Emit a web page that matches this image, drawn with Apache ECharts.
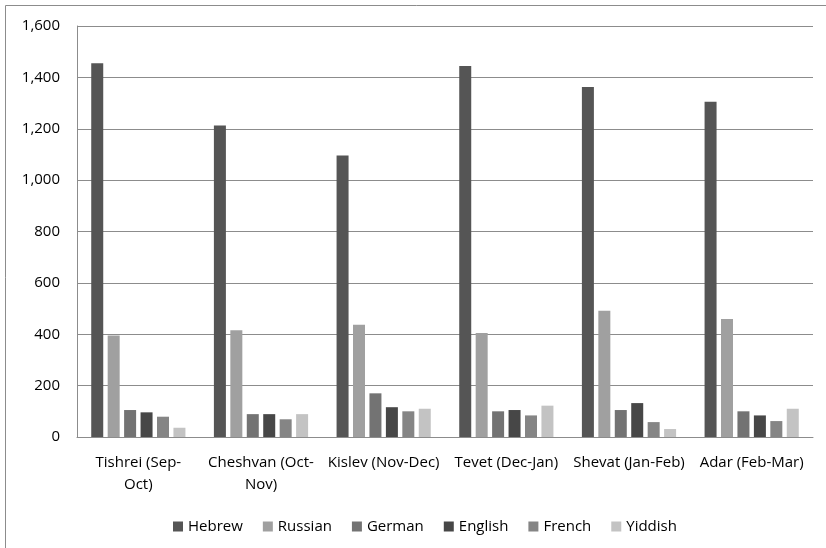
<!DOCTYPE html>
<html>
<head>
<meta charset="utf-8">
<script src="https://cdn.jsdelivr.net/npm/echarts@6/dist/echarts.min.js"></script>
<style>
  html, body { margin: 0; padding: 0; background: #fff; }
  #chart { width: 826px; height: 548px; }
</style>
</head>
<body>
<div id="chart"></div>
<script>
const months = [
  "Tishrei (Sep-\nOct)",
  "Cheshvan (Oct-\nNov)",
  "Kislev (Nov-Dec)",
  "Tevet (Dec-Jan)",
  "Shevat (Jan-Feb)",
  "Adar (Feb-Mar)",
];
const languages = ["Hebrew", "Russian", "German", "English", "French", "Yiddish"];
const hebrew = [1455, 1213, 1096, 1444, 1363, 1305];
const russian = [395, 416, 437, 405, 491, 459];
const german = [105, 89, 170, 100, 105, 100];
const english = [96, 89, 116, 105, 132, 84];
const french = [79, 69, 100, 84, 58, 62];
const yiddish = [36, 89, 110, 122, 31, 110];

const seriesData = [hebrew, russian, german, english, french, yiddish];
const colors = ["#555555", "#a0a0a0", "#737373", "#474747", "#858585", "#c3c3c3"];
const font = "Open Sans";

const chart = echarts.init(document.getElementById("chart"));
chart.setOption({
  animation: false,
  textStyle: { fontFamily: font },
  grid: { left: 77, right: 13, top: 26, bottom: 111, containLabel: false },
  graphic: [{
    type: "rect",
    shape: { x: 5.5, y: 5.5, width: 840, height: 600 },
    style: { fill: "none", stroke: "#8c8c8c", lineWidth: 1 },
  }],
  legend: {
    data: languages,
    left: 168,
    top: 514,
    itemWidth: 10,
    itemHeight: 10,
    itemGap: 20,
    icon: "rect",
    textStyle: { fontFamily: font, fontSize: 15, color: "#000" },
  },
  xAxis: {
    type: "category",
    data: months,
    axisLine: { lineStyle: { color: "#8c8c8c", width: 1 } },
    axisTick: { show: false },
    axisLabel: { color: "#000", fontSize: 15, margin: 15, lineHeight: 22, interval: 0 },
  },
  yAxis: {
    type: "value",
    min: 0,
    max: 1600,
    interval: 200,
    axisLine: { show: true, lineStyle: { color: "#8c8c8c", width: 1 } },
    axisTick: { show: false },
    splitLine: { lineStyle: { color: "#8c8c8c", width: 1 } },
    axisLabel: {
      color: "#000",
      fontSize: 15,
      margin: 17,
      formatter: (v) => v.toLocaleString("en-US"),
    },
  },
  series: languages.map((name, i) => ({
    name,
    type: "bar",
    data: seriesData[i],
    barWidth: 12,
    barGap: "37%",
    itemStyle: { color: colors[i] },
  })),
});
</script>
</body>
</html>
